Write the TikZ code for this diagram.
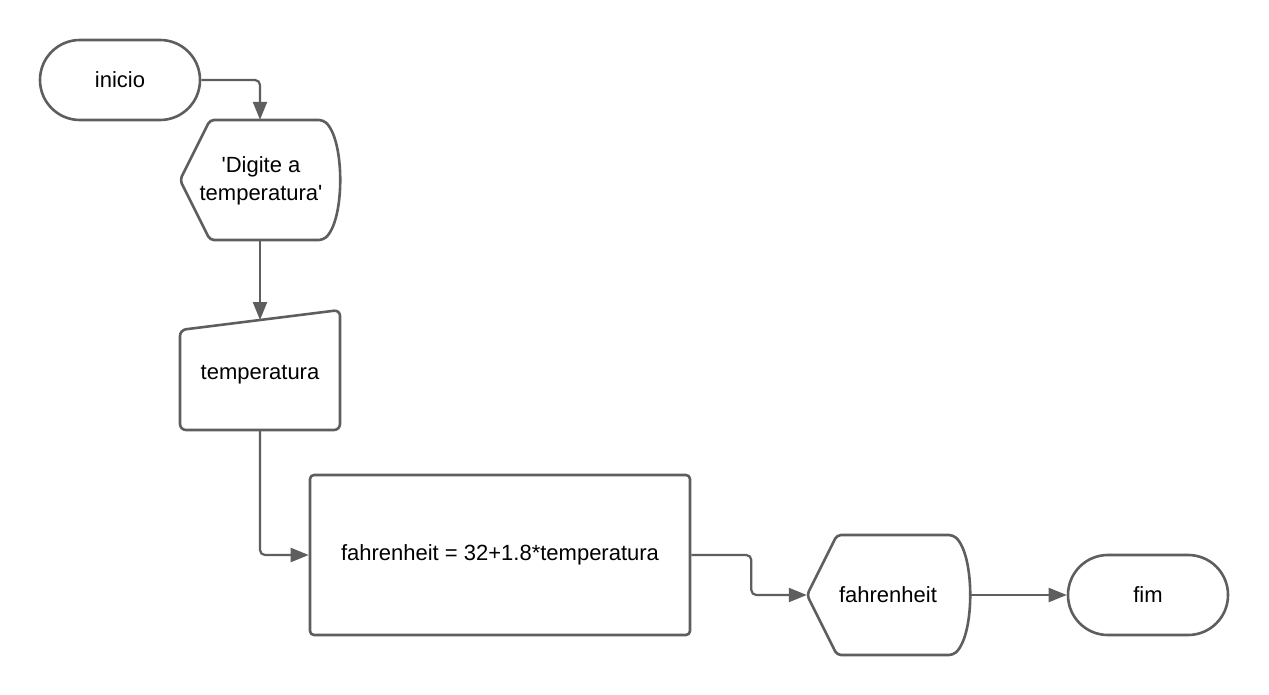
\documentclass[tikz,border=0pt]{standalone}
\usepackage{fontspec}
\setmainfont{Liberation Sans}
\usetikzlibrary{arrows.meta,calc}
\definecolor{lc}{RGB}{94,94,94}
\begin{document}
\begin{tikzpicture}[x=1pt,y=-1pt,
  lbl/.style={inner sep=0pt,font=\fontsize{22}{28}\selectfont,align=center},
  frame/.style={draw=lc,line width=2.6pt,line join=round},
  stadium/.style={frame,lbl,minimum width=160pt,minimum height=80pt,rounded corners=39.9pt},
  procbox/.style={frame,lbl,minimum width=380pt,minimum height=160pt,rounded corners=4pt},
  conn/.style={draw=lc,line width=2.2pt,rounded corners=5pt,-{Triangle[length=18pt,width=14pt]}}
]
\useasboundingbox (0,0) rectangle (1269,695);
\fill[white] (0,0) rectangle (1269,695);

% start
\node[stadium] (inicio) at (120,80) {inicio};

% display 1
\node[lbl,minimum width=160pt,minimum height=120pt] (d1) at (260,180) {};
\node[lbl] (d1txt) at (261,181) {\textquotesingle Digite a\\temperatura\textquotesingle};
\draw[frame,rounded corners=4pt] (180,180) -- (210,120) -- (323,120)
  .. controls (345,140) and (345,220) .. (323,240) -- (210,240) -- cycle;

% manual input
\node[lbl,minimum width=160pt,minimum height=110pt] (mi) at (260,375) {temperatura};
\draw[frame,rounded corners=6pt] (180,330) -- (340,310) -- (340,430) -- (180,430) -- cycle;
\coordinate (mitop) at (260,320);

% process
\node[procbox] (proc) at (500,555) {fahrenheit = 32+1.8*temperatura};

% display 2
\node[lbl,minimum width=162pt,minimum height=120pt] (d2) at (888,595) {fahrenheit};
\draw[frame,rounded corners=4pt] (807,595) -- (837,535) -- (953,535)
  .. controls (975,555) and (975,635) .. (953,655) -- (837,655) -- cycle;

% end
\node[stadium] (fim) at (1148,595) {fim};

% connectors
\draw[conn] (inicio.east) -| (d1.north);
\draw[conn] (d1.south) -- (mitop);
\draw[conn] (mi.south) |- (proc.west);
\draw[conn] (proc.east) -- ++(60,0) |- (d2.west);
\draw[conn] (d2.east) -- (fim.west);
\end{tikzpicture}
\end{document}
